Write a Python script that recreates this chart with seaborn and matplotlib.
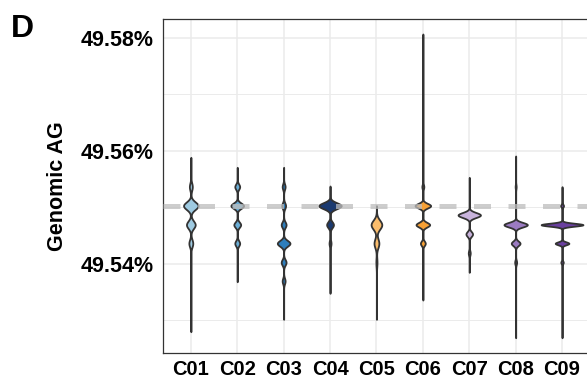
import numpy as np
import pandas as pd
import matplotlib
matplotlib.use("Agg")
import matplotlib.pyplot as plt
import seaborn as sns
from matplotlib.ticker import FuncFormatter, FixedLocator

# ---------------- data (genomic AG content, %) ----------------
clades = ["C01", "C02", "C03", "C04", "C05", "C06", "C07", "C08", "C09"]
colors = ["#9ecae1", "#6baed6", "#2e7ebc", "#1b3a70",
          "#fbbd6c", "#f6a035", "#c8b3dc", "#9b7bc1", "#6a3f9f"]
ref_ag = 49.55025

c01_values = [49.55883, 49.55362, 49.55025, 49.54688, 49.54358, 49.52791]
c01_counts = [1, 228, 1140, 684, 304, 1]
c02_values = [49.55706, 49.55362, 49.55025, 49.54688, 49.54358, 49.53677]
c02_counts = [1, 270, 702, 378, 270, 1]
c03_values = [49.55706, 49.55362, 49.55025, 49.54688, 49.54358, 49.54021, 49.53690, 49.53011]
c03_counts = [1, 174, 232, 290, 754, 290, 174, 1]
c04_values = [49.55374, 49.55025, 49.54688, 49.54358, 49.53472]
c04_counts = [1, 1380, 420, 120, 1]
c05_values = [49.55025, 49.54688, 49.54358, 49.54021, 49.53011]
c05_counts = [1, 1012, 460, 100, 1]
c06_values = [49.58069, 49.55362, 49.55025, 49.54688, 49.54358, 49.53353]
c06_counts = [1, 92, 736, 644, 230, 1]
c07_values = [49.55528, 49.54860, 49.54523, 49.54186, 49.53844]
c07_counts = [1, 1150, 340, 100, 1]
c08_values = [49.55906, 49.55362, 49.54688, 49.54358, 49.54021, 49.52684]
c08_counts = [1, 46, 1104, 414, 92, 1]
c09_values = [49.55362, 49.55025, 49.54688, 49.54358, 49.54021, 49.52684]
c09_counts = [1, 87, 1247, 406, 72, 1]

all_values = [c01_values, c02_values, c03_values, c04_values, c05_values,
              c06_values, c07_values, c08_values, c09_values]
all_counts = [c01_counts, c02_counts, c03_counts, c04_counts, c05_counts,
              c06_counts, c07_counts, c08_counts, c09_counts]

# ---------------- style ----------------
bw_px = [3.8, 2.7, 2.9, 3.0, 4.6, 2.3, 2.5, 2.3, 1.45]   # kernel bandwidth (pixels)
px_to_val = 0.02 / 112.8

rows = []
for clade, vals, cnts in zip(clades, all_values, all_counts):
    for v, c in zip(vals, cnts):
        rows += [(clade, v)] * c
df = pd.DataFrame(rows, columns=["clade", "ag"])

# count-scaled peak widths
peaks = []
for vals, cnts, b in zip(all_values, all_counts, bw_px):
    s = b * px_to_val
    grid = np.linspace(min(vals), max(vals), 4000)
    dens = sum(c * np.exp(-0.5 * ((grid - v) / s) ** 2) for v, c in zip(vals, cnts)) / s
    peaks.append(dens.max())
peaks = np.array(peaks)
widths = 0.9 * peaks / peaks.max()

sns.set_style("white")
plt.rcParams["font.family"] = ["Liberation Sans", "DejaVu Sans"]

fig = plt.figure(figsize=(5.87, 3.80), dpi=100)
ax = fig.add_axes([163 / 587, 1 - 352.7 / 380, (589.9 - 163) / 587, (352.7 - 19.3) / 380])

for i, clade in enumerate(clades):
    sub = df[df["clade"] == clade]
    std = sub["ag"].std(ddof=1)
    sns.violinplot(data=sub, x="clade", y="ag", order=clades, color=colors[i],
                   saturation=1, bw_method=bw_px[i] * px_to_val / std, cut=0,
                   gridsize=3000, inner=None, density_norm="width",
                   width=widths[i], linewidth=1.3, linecolor="#333333", ax=ax)

ax.axhline(ref_ag, color="#bdbdbd", lw=3.6, ls=(0, (3.4, 3.5)), alpha=0.75, zorder=10)

ax.set_xlim(-0.6, 8.6)
ax.set_ylim(49.52419, 49.58330)
ax.yaxis.set_major_locator(FixedLocator([49.54, 49.56, 49.58]))
ax.yaxis.set_minor_locator(FixedLocator([49.53, 49.55, 49.57]))
ax.yaxis.set_major_formatter(FuncFormatter(lambda v, p: f"{v:.2f}%"))

ax.set_axisbelow(True)
ax.grid(True, which="major", color="#ebebeb", lw=1.1)
ax.grid(True, which="minor", axis="y", color="#ebebeb", lw=0.7)
ax.xaxis.grid(True, color="#ebebeb", lw=1.1)

for sp in ax.spines.values():
    sp.set_visible(True)
    sp.set_color("#333333")
    sp.set_linewidth(0.9)

ax.tick_params(axis="y", which="major", length=3.5, width=0.9, color="#333333",
               labelsize=15.5, pad=3)
ax.tick_params(axis="x", which="major", length=3.5, width=0.9, color="#333333",
               labelsize=14.5, pad=1.5)
ax.tick_params(axis="y", which="minor", length=0)
for lab in ax.get_xticklabels() + ax.get_yticklabels():
    lab.set_fontweight("bold")
    lab.set_color("black")

ax.set_xlabel("")
ax.set_ylabel("Genomic AG", fontsize=15.5, fontweight="bold", labelpad=9, color="black")

fig.text(11 / 587, 1 - 37 / 380, "D", fontsize=23, fontweight="bold", va="baseline",
         color="black")

fig.savefig("out.png", dpi=100)
